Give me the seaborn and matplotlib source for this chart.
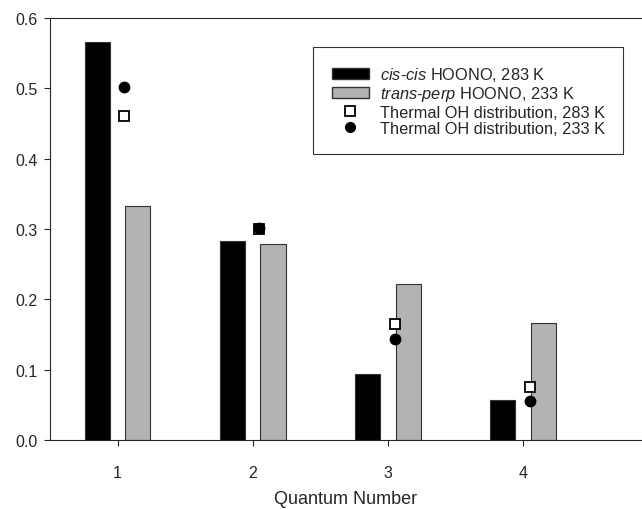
import numpy as np
import pandas as pd
import matplotlib
matplotlib.use("Agg")
import matplotlib.pyplot as plt
from matplotlib.patches import Patch
from matplotlib.lines import Line2D
import seaborn as sns

# === Data ===
quantum = ["1", "2", "3", "4"]
cis_283 = [0.566, 0.283, 0.094, 0.057]
trans_233 = [0.333, 0.278, 0.222, 0.167]
thermal_283 = [0.460, 0.300, 0.165, 0.075]
thermal_233 = [0.502, 0.301, 0.143, 0.056]

lab_cis = r"$\mathit{cis}$-$\mathit{cis}$ HOONO, 283 K"
lab_trans = r"$\mathit{trans}$-$\mathit{perp}$ HOONO, 233 K"

df = pd.DataFrame({
    "quantum": quantum * 2,
    "value": cis_283 + trans_233,
    "series": [lab_cis] * 4 + [lab_trans] * 4,
})

# === Style ===
sns.set_style("ticks")
plt.rcParams["font.family"] = ["Liberation Sans", "DejaVu Sans"]
plt.rcParams["mathtext.fontset"] = "custom"
plt.rcParams["mathtext.it"] = "Liberation Sans:italic"
plt.rcParams["mathtext.rm"] = "Liberation Sans"

fig = plt.figure(figsize=(6.42, 5.10), dpi=100)
ax = fig.add_axes([50 / 642, 69 / 510, 1.0 - 50 / 642, 422 / 510])

sns.barplot(
    data=df, x="quantum", y="value", hue="series",
    palette=["black", "#b3b3b3"], width=0.6, gap=0.38,
    edgecolor="#333333", linewidth=0.8, legend=False, ax=ax,
)

xpos = np.arange(len(quantum)) + 0.05
ax.plot(xpos, thermal_283, linestyle="none", marker="s", markersize=7,
        markerfacecolor="white", markeredgecolor="black", markeredgewidth=1.3)
ax.plot(xpos, thermal_233, linestyle="none", marker="o", markersize=7.5,
        color="black")

ax.set_xlim(-0.5, 3.88)
ax.set_ylim(0, 0.6)
ax.set_yticks(np.arange(0, 0.61, 0.1))
ax.set_yticklabels([f"{v:.1f}" for v in np.arange(0, 0.61, 0.1)])
ax.set_xlabel("Quantum Number", fontsize=13, labelpad=7)
ax.set_ylabel("")
ax.tick_params(axis="both", labelsize=11.5, direction="out", length=4, width=0.8)
ax.tick_params(axis="x", pad=14)
ax.tick_params(axis="y", pad=5)
for side in ["left", "bottom", "top"]:
    ax.spines[side].set_linewidth(0.8)
ax.spines["right"].set_visible(False)

handles = [
    Patch(facecolor="black", edgecolor="#333333", label=lab_cis),
    Patch(facecolor="#b3b3b3", edgecolor="#333333", label=lab_trans),
    Line2D([], [], linestyle="none", marker="s", markersize=6.5,
           markerfacecolor="white", markeredgecolor="black", markeredgewidth=1.3,
           label="Thermal OH distribution, 283 K"),
    Line2D([], [], linestyle="none", marker="o", markersize=7, color="black",
           label="Thermal OH distribution, 233 K"),
]
leg = ax.legend(handles=handles, loc="upper right",
                bbox_to_anchor=((623 - 50) / 592, 1 - 29 / 422),
                bbox_transform=ax.transAxes, frameon=True, fancybox=False,
                fontsize=11.8, handlelength=2.3, handleheight=0.7,
                borderpad=1.1, labelspacing=0.08, handletextpad=0.65,
                borderaxespad=0)
leg.get_frame().set_edgecolor("black")
leg.get_frame().set_linewidth(0.8)

fig.savefig("out.png", dpi=100)
